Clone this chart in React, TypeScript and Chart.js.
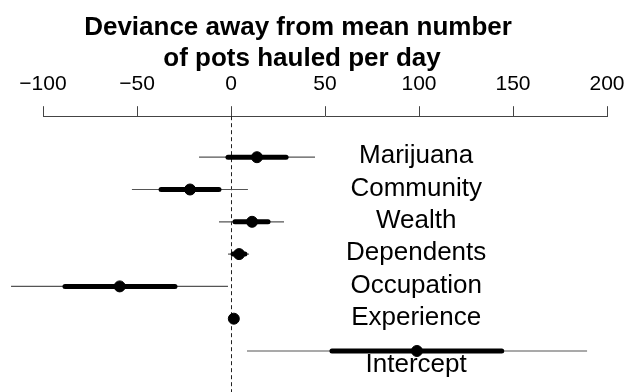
import React, { useEffect, useRef } from "react";
import { Chart, registerables } from "chart.js";

Chart.register(...registerables);

const rows = ["Marijuana", "Community", "Wealth", "Dependents", "Occupation", "Experience", "Intercept"];
const estimate = [13.8, -21.8, 11.2, 4.3, -59.2, 1.5, 98.9];
const lower95 = [-17, -52.7, -6.4, -1.6, -117, 1.0, 8.5];
const upper95 = [44.7, 9.0, 28.2, 9.6, -1.6, 2.0, 189.4];
const lower50 = [-1.6, -37.2, 2.1, 1.1, -88.3, 1.3, 53.7];
const upper50 = [29.3, -6.4, 19.7, 7.4, -29.8, 1.7, 144];
const tickValues = [-100, -50, 0, 50, 100, 150, 200];
const tickLabels = ["\u2212100", "\u221250", "0", "50", "100", "150", "200"];
const titleLines = ["Deviance away from mean number", "of pots hauled per day"];

const FONT = "'Liberation Sans', Arial, Helvetica, sans-serif";

const intervalPlugin = {
  id: "intervals",
  beforeDatasetsDraw(chart: any) {
    const { ctx, scales, chartArea } = chart;
    const xs = scales.x;
    const ys = scales.y;
    ctx.save();
    const x0 = Math.round(xs.getPixelForValue(0)) + 0.5;
    ctx.strokeStyle = "#222";
    ctx.lineWidth = 1;
    ctx.setLineDash([4, 3]);
    ctx.beginPath();
    ctx.moveTo(x0, chartArea.top);
    ctx.lineTo(x0, chart.height);
    ctx.stroke();
    ctx.setLineDash([]);
    rows.forEach((_, i) => {
      const y = ys.getPixelForValue(i);
      ctx.strokeStyle = "#555";
      ctx.lineWidth = 1.2;
      ctx.lineCap = "butt";
      ctx.beginPath();
      ctx.moveTo(xs.getPixelForValue(lower95[i]), y);
      ctx.lineTo(xs.getPixelForValue(upper95[i]), y);
      ctx.stroke();
      ctx.strokeStyle = "#000";
      ctx.lineWidth = 5;
      ctx.lineCap = "round";
      ctx.beginPath();
      ctx.moveTo(xs.getPixelForValue(lower50[i]), y);
      ctx.lineTo(xs.getPixelForValue(upper50[i]), y);
      ctx.stroke();
    });
    ctx.restore();
  },
  afterDraw(chart: any) {
    const { ctx, scales } = chart;
    const xs = scales.x;
    const ys = scales.y;
    ctx.save();
    ctx.fillStyle = "#000";
    ctx.textAlign = "center";
    ctx.textBaseline = "alphabetic";
    ctx.font = `bold 26px ${FONT}`;
    ctx.fillText(titleLines[0], 298, 35);
    ctx.fillText(titleLines[1], 302, 66);
    ctx.font = `26px ${FONT}`;
    ctx.textBaseline = "middle";
    const lx = xs.getPixelForValue(98.5);
    rows.forEach((r, i) => {
      const last = i === rows.length - 1;
      const y = ys.getPixelForValue(i) + (last ? 14 : -1);
      ctx.fillText(r, lx, y);
    });
    ctx.restore();
  },
};

export default function App() {
  const ref = useRef<HTMLCanvasElement>(null);
  useEffect(() => {
    document.body.style.margin = "0";
    const canvas = ref.current!;
    const chart = new Chart(canvas, {
      type: "scatter",
      data: {
        datasets: [
          {
            data: estimate.map((v, i) => ({ x: v, y: i })),
            backgroundColor: "#000",
            borderColor: "#000",
            pointRadius: 5.5,
            pointHoverRadius: 5.5,
          },
        ],
      },
      options: {
        responsive: false,
        animation: false,
        devicePixelRatio: 1,
        layout: { autoPadding: false, padding: { left: 43, right: 20, top: 63, bottom: 0 } },
        plugins: { legend: { display: false }, tooltip: { enabled: false }, title: { display: false } },
        scales: {
          x: {
            type: "linear",
            position: "top",
            min: -100,
            max: 200,
            afterBuildTicks: (axis: any) => {
              axis.ticks = tickValues.map((v) => ({ value: v }));
            },
            afterFit: (axis: any) => {
              axis.paddingLeft = 0;
              axis.paddingRight = 0;
            },
            ticks: {
              color: "#000",
              font: { family: FONT, size: 21 },
              padding: 9,
              maxRotation: 0,
              autoSkip: false,
              callback: (v: any) => tickLabels[tickValues.indexOf(Number(v))],
            },
            grid: { display: true, drawOnChartArea: false, drawTicks: true, tickLength: 10, color: "#444", lineWidth: 1 },
            border: { display: true, color: "#444", width: 1 },
          },
          y: {
            type: "linear",
            display: false,
            reverse: true,
            min: -1.27,
            max: 7.27,
          },
        },
      },
      plugins: [intervalPlugin],
    });
    return () => chart.destroy();
  }, []);
  return <canvas ref={ref} width={627} height={392} style={{ display: "block" }} />;
}
